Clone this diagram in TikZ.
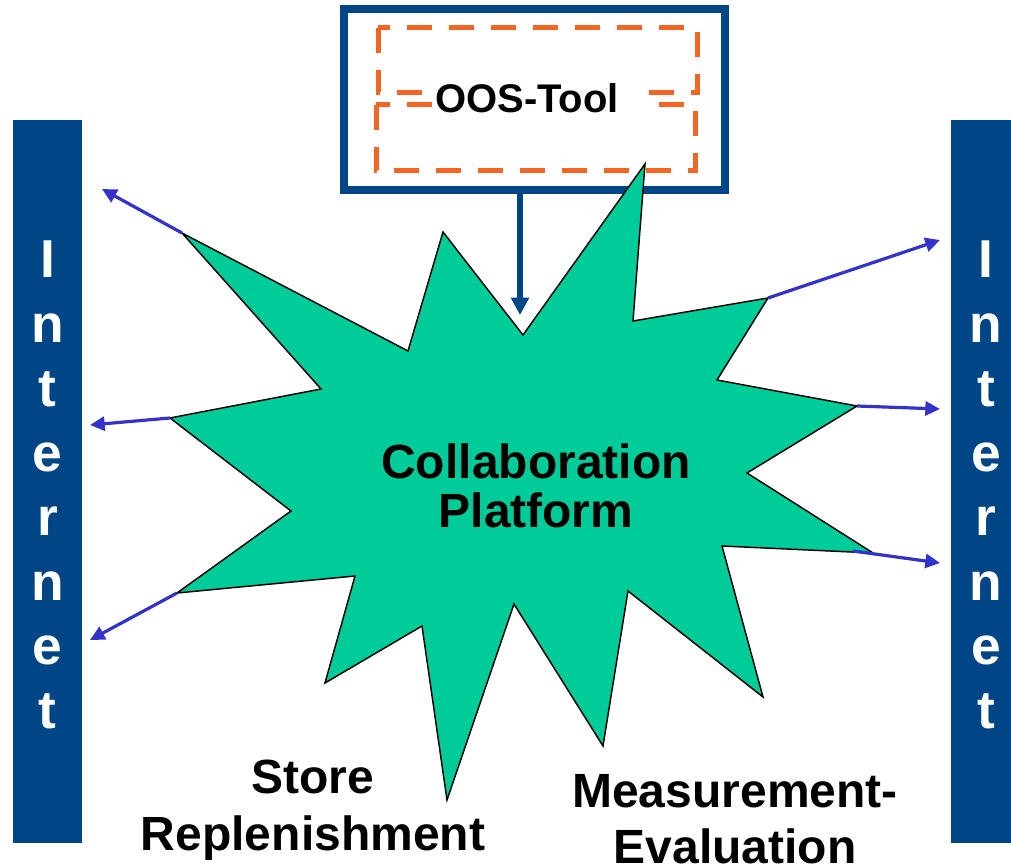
\documentclass[tikz,border=0pt]{standalone}
\usepackage{fontspec}
\setmainfont{Liberation Sans}
\usetikzlibrary{arrows.meta}
\definecolor{navy}{RGB}{0,69,134}
\definecolor{burst}{RGB}{0,204,153}
\definecolor{dashorange}{RGB}{242,101,34}
\definecolor{linkblue}{RGB}{51,51,204}

\begin{document}
\begin{tikzpicture}[x=0.75pt,y=-0.75pt,
  netbar/.style={fill=navy,draw=none},
  netletter/.style={text=white,font=\fontsize{40}{40}\selectfont\bfseries,anchor=base,inner sep=0pt},
  toolframe/.style={draw=navy,line width=6pt,fill=white,minimum width=286pt,minimum height=136pt,inner sep=0pt},
  tooldash/.style={draw=dashorange,line width=3.75pt,dash pattern=on 18.75pt off 12.75pt},
  burstshape/.style={fill=burst,draw=black,line width=1.1pt,line join=miter},
  link/.style={draw=linkblue,line width=2.4pt,-{Triangle[length=11pt,width=10.5pt]}},
  feed/.style={draw=navy,line width=4pt,-{Triangle[length=13pt,width=13pt]}},
  caption/.style={font=\fontsize{36}{36}\selectfont\bfseries,anchor=base,inner sep=0pt},
]
\useasboundingbox (0,0) rectangle (1011,866);

% Internet bars on both sides
\fill[netbar] (13,120) rectangle (82,843);
\fill[netbar] (951,120) rectangle (1011,843);
\foreach \ch [count=\i] in {I,n,t,e,r,n,e,t} {
  \node[netletter] (inetL\i) at (47.5,{278+64.4*(\i-1)}) {\ch};
  \node[netletter] (inetR\i) at (986,{278+64.4*(\i-1)}) {\ch};
}

% OOS tool box
\node[toolframe] (tool) at (534.75,99.75) {};
\draw[tooldash] (378,28) rectangle (697,93);
\draw[tooldash] (376,105) rectangle (695,171);
\node[font=\fontsize{30}{30}\selectfont\bfseries,fill=white,inner sep=0pt,
      text width=160pt,align=left,anchor=base west] (oos) at (435,113) {OOS-Tool};

% collaboration burst
\coordinate (pN)   at (443,232);
\coordinate (pNE)  at (645,164);
\coordinate (pE1)  at (768,298);
\coordinate (pE2)  at (857,406);
\coordinate (pE3)  at (873,553);
\coordinate (pSE)  at (763,697);
\coordinate (pS1)  at (603,746);
\coordinate (pS2)  at (447,800);
\coordinate (pSW)  at (325,683);
\coordinate (pW3)  at (177,593);
\coordinate (pW2)  at (170,418);
\coordinate (pW1)  at (182,233);
\draw[burstshape] (pN) -- (523,335) -- (pNE) -- (633,321) -- (pE1) -- (717,380)
  -- (pE2) -- (747,473) -- (pE3) -- (722,546) -- (pSE) -- (628,591) -- (pS1)
  -- (514,604) -- (pS2) -- (422,626) -- (pSW) -- (355,576) -- (pW3) -- (291,511)
  -- (pW2) -- (321,389) -- (pW1) -- (408,351) -- cycle;

\node[caption] (collab1) at (536,478) {Collaboration};
\node[caption] (collab2) at (536,527) {Platform};

% feed from the tool into the platform
\coordinate (feedEnd) at (520,315);
\draw[feed] (tool.south -| feedEnd) -- (feedEnd);

% links out to the Internet
\coordinate (oW1) at (102,189);
\coordinate (oW2) at (90,425);
\coordinate (oW3) at (90,640);
\coordinate (oE1) at (940,240);
\coordinate (oE2) at (940,409);
\coordinate (oE3) at (940,563);
\coordinate (sE3) at (853,551);
\draw[link] (pW1) -- (oW1);
\draw[link] (pW2) -- (oW2);
\draw[link] (pW3) -- (oW3);
\draw[link] (pE1) -- (oE1);
\draw[link] (pE2) -- (oE2);
\draw[link] (sE3) -- (oE3);

% captions below
\node[caption] (store1) at (313,793) {Store};
\node[caption] (store2) at (313,850) {Replenishment};
\node[caption] (meas1) at (735,807) {Measurement-};
\node[caption] (meas2) at (735,863) {Evaluation};
\end{tikzpicture}
\end{document}
